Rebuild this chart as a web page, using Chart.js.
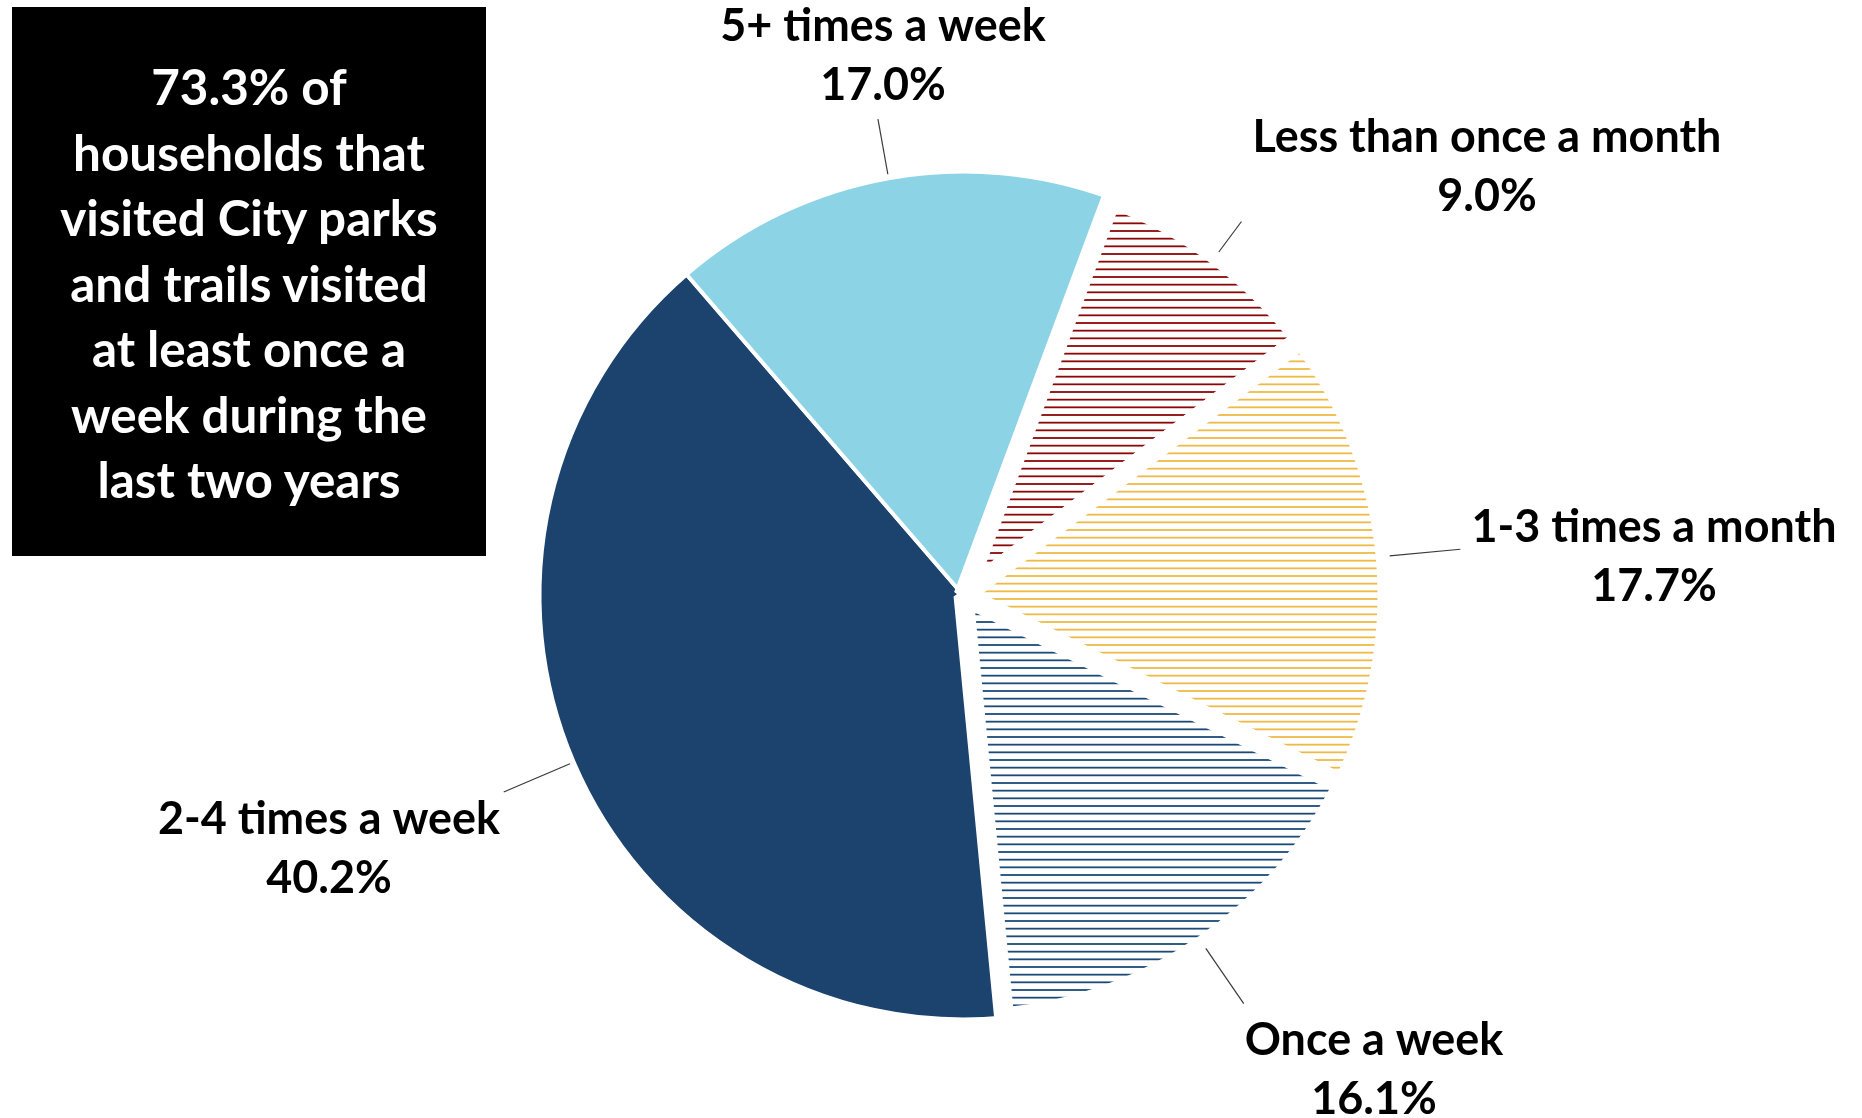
<!DOCTYPE html>
<html>
<head>
<meta charset="utf-8">
<title>Park visit frequency</title>
<script src="https://cdn.jsdelivr.net/npm/chart.js@4"></script>
<style>
    body { margin: 0; background: #fff; }
    #wrap { position: relative; width: 1862px; height: 1118px; }
    #note {
        position: absolute; left: 12px; top: 7px; width: 474px; height: 549px;
        background: #000; color: #fff; font-family: Lato, sans-serif; font-weight: 700;
        text-align: center; box-sizing: border-box; padding-top: 47px; line-height: 65.5px;
    }
</style>
</head>
<body>
<div id="wrap">
    <canvas id="pie"></canvas>
    <div id="note">73.3% of<br>households that<br>visited City parks<br>and trails visited<br>at least once a<br>week during the<br>last two years</div>
</div>
<script>
// ---------- Data ----------
const categories = ["2-4 times a week", "5+ times a week", "Less than once a month", "1-3 times a month", "Once a week"];
const shares = [40.2, 17.0, 9.0, 17.7, 16.1];

// ---------- Look ----------
const FONT = "Lato, sans-serif";
const sliceFill = ["#1B436E", "#8CD4E5", "hatch:#8B0606", "hatch:#EEBA45", "hatch:#1C4A78"];
// label block centres and leader lengths (layout only)
const labelPos = [[329, 849], [883, 56], [1487, 167], [1654, 557], [1374, 1070]];
const leaderLen = [76, 60, 42, 75, 71];

// font size that makes a sample string a given width
function fitSize(text, width) {
    const g = document.createElement("canvas").getContext("2d");
    g.font = "700 100px " + FONT;
    return 100 * width / g.measureText(text).width;
}
const labelSize = fitSize("Less than once a month", 469);
document.getElementById("note").style.fontSize = fitSize("visited City parks", 379) + "px";

// horizontal line pattern
function hatch(color) {
    const c = document.createElement("canvas");
    c.width = 16;
    c.height = 23;
    const g = c.getContext("2d");
    g.fillStyle = "#fff";
    g.fillRect(0, 0, 16, 23);
    g.strokeStyle = color;
    g.lineWidth = 1.8;
    for (let k = 0; k < 3; k++) {
        const y = k * 23 / 3 + 1;
        g.beginPath();
        g.moveTo(0, y);
        g.lineTo(16, y);
        g.stroke();
    }
    return g.createPattern(c, "repeat");
}

const fills = sliceFill.map(f => f.startsWith("hatch:") ? hatch(f.slice(6)) : f);
const borders = sliceFill.map(f => f.startsWith("hatch:") ? 20 : 4);

// ---------- Labels + leader lines ----------
const pieLabels = {
    id: "pieLabels",
    afterDraw(chart) {
        const ctx = chart.ctx;
        const arcs = chart.getDatasetMeta(0).data;
        ctx.save();
        arcs.forEach((arc, i) => {
            const mid = (arc.startAngle + arc.endAngle) / 2;
            const r = arc.outerRadius;
            ctx.strokeStyle = "#3a3a3a";
            ctx.lineWidth = 1.2;
            ctx.beginPath();
            ctx.moveTo(arc.x + Math.cos(mid) * (r + 4), arc.y + Math.sin(mid) * (r + 4));
            ctx.lineTo(arc.x + Math.cos(mid) * (r + leaderLen[i]), arc.y + Math.sin(mid) * (r + leaderLen[i]));
            ctx.stroke();

            const [lx, ly] = labelPos[i];
            ctx.fillStyle = "#000";
            ctx.font = "700 " + labelSize + "px " + FONT;
            ctx.textAlign = "center";
            ctx.textBaseline = "middle";
            ctx.fillText(categories[i], lx, ly - 29.5);
            ctx.fillText(shares[i].toFixed(1) + "%", lx, ly + 29.5);
        });
        ctx.restore();
    }
};

// ---------- Pie ----------
new Chart(document.getElementById("pie"), {
    type: "pie",
    data: {
        labels: categories,
        datasets: [{
            data: shares,
            backgroundColor: fills,
            borderColor: "#fff",
            borderWidth: borders
        }]
    },
    options: {
        responsive: true,
        maintainAspectRatio: false,
        animation: false,
        events: [],
        rotation: 174.5,
        radius: 424,
        layout: { padding: { left: 65, right: 0, top: 73, bottom: 0 } },
        plugins: { legend: { display: false }, tooltip: { enabled: false } }
    },
    plugins: [pieLabels]
});
</script>
</body>
</html>
